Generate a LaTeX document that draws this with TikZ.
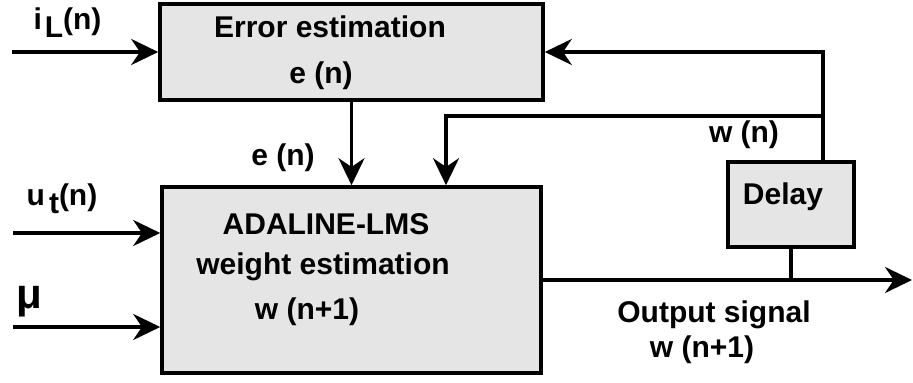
\documentclass[tikz,border=0pt]{standalone}
\usepackage{fontspec}
\setmainfont{Liberation Sans}
\usetikzlibrary{arrows.meta}

\begin{document}
\begin{tikzpicture}[x=0.5pt, y=-0.5pt, line width=1.8pt,
  every node/.style={font=\fontsize{15}{18}\selectfont\bfseries, inner sep=0pt},
  blk/.style={draw, fill=black!10, line width=1.8pt},
  sig/.style={-{Stealth[length=13.5pt,width=13pt]}}]
\useasboundingbox (0,0) rectangle (913,383);
% blocks
\node[blk, minimum width=191.5pt, minimum height=48pt] (err) at (351.5,52) {};
\node[blk, minimum width=189.5pt, minimum height=93pt] (ada) at (351.5,280) {};
\node[blk, minimum width=63pt, minimum height=42.5pt] (dly) at (791,204.5) {};
\node at (330,27) {Error estimation};
\node at (321,76) {e (n)};
\node at (326,224) {ADALINE-LMS};
\node at (323,267) {weight estimation};
\node at (307,312) {w (n+1)};
\node at (783,197) {Delay};
% inputs
\coordinate (inL) at (12,52);
\coordinate (inU) at (13,233);
\coordinate (inMu) at (13,327);
\node at (67.5,22.5) {i\kern1.5pt\raisebox{-4pt}{L}(n)};
\node at (62,199) {u\kern2pt\raisebox{-4pt}{t}(n)};
\node[font=\fontsize{21}{21}\selectfont\bfseries] at (29,302) {μ};
\draw[sig] (inL) -- (err.west);
\draw[sig] (inU) -- (inU -| ada.west);
\draw[sig] (inMu) -- (inMu -| ada.west);
% error to adaline
\draw[sig] (err.south) -- (err.south |- ada.north);
\node at (283,158) {e (n)};
% feedback through delay
\coordinate (tap) at (823,116);
\coordinate (drop) at (446,116);
\draw[sig] (tap |- dly.north) -- (tap |- err.east) -- (err.east);
\draw[sig] (tap) -- (drop) -- (drop |- ada.north);
\node at (744,135) {w (n)};
% output
\coordinate (out) at (912,280);
\draw[sig] (ada.east) -- (out);
\draw (dly.south) -- (dly.south |- out);
\node at (714,315) {Output signal};
\node at (702,350) {w (n+1)};
\end{tikzpicture}
\end{document}
